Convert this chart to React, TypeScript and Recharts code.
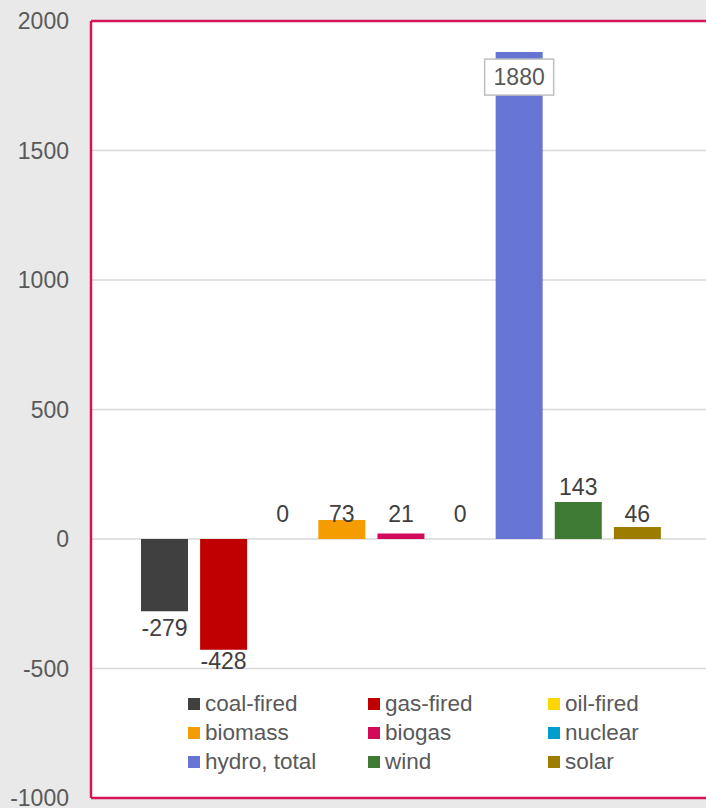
import React from 'react';
import {
  BarChart,
  Bar,
  Cell,
  XAxis,
  YAxis,
  CartesianGrid,
  Legend,
  LabelList,
} from 'recharts';

const categories = [
  'coal-fired',
  'gas-fired',
  'oil-fired',
  'biomass',
  'biogas',
  'nuclear',
  'hydro, total',
  'wind',
  'solar',
];
const values = [-279, -428, 0, 73, 21, 0, 1880, 143, 46];
const colors = [
  '#404040',
  '#c00000',
  '#ffd500',
  '#f59c00',
  '#d20a57',
  '#009ecb',
  '#6675d4',
  '#3e7a34',
  '#9c7d00',
];
const yTicks = [-1000, -500, 0, 500, 1000, 1500, 2000];

const data = categories.map((name, i) => ({ name, value: values[i] }));

const FONT = '"Liberation Sans", Arial, sans-serif';
const BORDER = '#d5145a';
const TEXT = '#595959';
const LABEL = '#404040';

// value labels: above positive bars, below negative ones, boxed for the tall hydro bar
const renderLabel = (props: any) => {
  const { x, y, width, height, value } = props;
  const v = Number(value);
  const top = Math.min(y, y + height);
  const bottom = Math.max(y, y + height);
  const cx = x + width / 2;

  if (v > 1000) {
    const cy = top + 25;
    return (
      <g>
        <rect x={cx - 34.5} y={cy - 18} width={69} height={36} fill="#fff" stroke="#bfbfbf" strokeWidth={1.5} />
        <text x={cx} y={cy} dy="0.355em" textAnchor="middle" fontSize={23} fontFamily={FONT} fill={TEXT}>
          {v}
        </text>
      </g>
    );
  }
  if (v < 0) {
    const pxPerUnit = Math.abs(height) / Math.abs(v);
    const limit = top + 500 * pxPerUnit - 8;
    const cy = Math.min(bottom + 17, limit);
    return (
      <text x={cx} y={cy} dy="0.355em" textAnchor="middle" fontSize={23} fontFamily={FONT} fill={LABEL}>
        {v}
      </text>
    );
  }
  const cy = v < 100 ? bottom - 25 : top - 15;
  return (
    <text x={cx} y={cy} dy="0.355em" textAnchor="middle" fontSize={23} fontFamily={FONT} fill={LABEL}>
      {v}
    </text>
  );
};

const renderLegend = () => (
  <div
    style={{
      display: 'grid',
      gridTemplateColumns: '180px 180px 180px',
      gridAutoRows: '29px',
      fontFamily: FONT,
      fontSize: 22.5,
      color: TEXT,
    }}
  >
    {categories.map((name, i) => (
      <div key={name} style={{ display: 'flex', alignItems: 'center', whiteSpace: 'nowrap' }}>
        <span style={{ width: 12, height: 12, background: colors[i], marginRight: 5, flex: 'none' }} />
        <span style={{ lineHeight: '29px' }}>{name}</span>
      </div>
    ))}
  </div>
);

export default function App() {
  return (
    <div
      style={{
        position: 'absolute',
        left: 0,
        top: 0,
        width: 706,
        height: 808,
        overflow: 'hidden',
        background: '#e9e9e9',
      }}
    >
      <BarChart width={722} height={808} data={data} margin={{ top: 20, right: 0, bottom: 9, left: 0 }}>
        <CartesianGrid vertical={false} fill="#fff" stroke="#d9d9d9" strokeWidth={1.5} />
        <XAxis
          dataKey="name"
          height={1}
          tick={false}
          tickLine={false}
          padding={{ left: 44, right: 55 }}
          axisLine={{ stroke: BORDER, strokeWidth: 2.5 }}
        />
        <XAxis
          xAxisId="top"
          orientation="top"
          dataKey="name"
          height={1}
          tick={false}
          tickLine={false}
          axisLine={{ stroke: BORDER, strokeWidth: 2.5 }}
        />
        <YAxis
          width={91}
          domain={[-1000, 2000]}
          ticks={yTicks}
          interval={0}
          tickLine={false}
          tickSize={0}
          tickMargin={22}
          axisLine={{ stroke: BORDER, strokeWidth: 2.5 }}
          tick={{ fontSize: 23, fontFamily: FONT, fill: TEXT }}
        />
        <Legend
          layout="horizontal"
          verticalAlign="middle"
          align="center"
          content={renderLegend}
          wrapperStyle={{ left: 188, top: 689, width: 540 }}
        />
        <Bar
          dataKey="value"
          barSize={47}
          minPointSize={(v: number) => (v === 0 ? 0.01 : 0)}
          isAnimationActive={false}
        >
          {data.map((d, i) => (
            <Cell key={d.name} fill={colors[i]} />
          ))}
          <LabelList dataKey="value" content={renderLabel} />
        </Bar>
      </BarChart>
    </div>
  );
}
